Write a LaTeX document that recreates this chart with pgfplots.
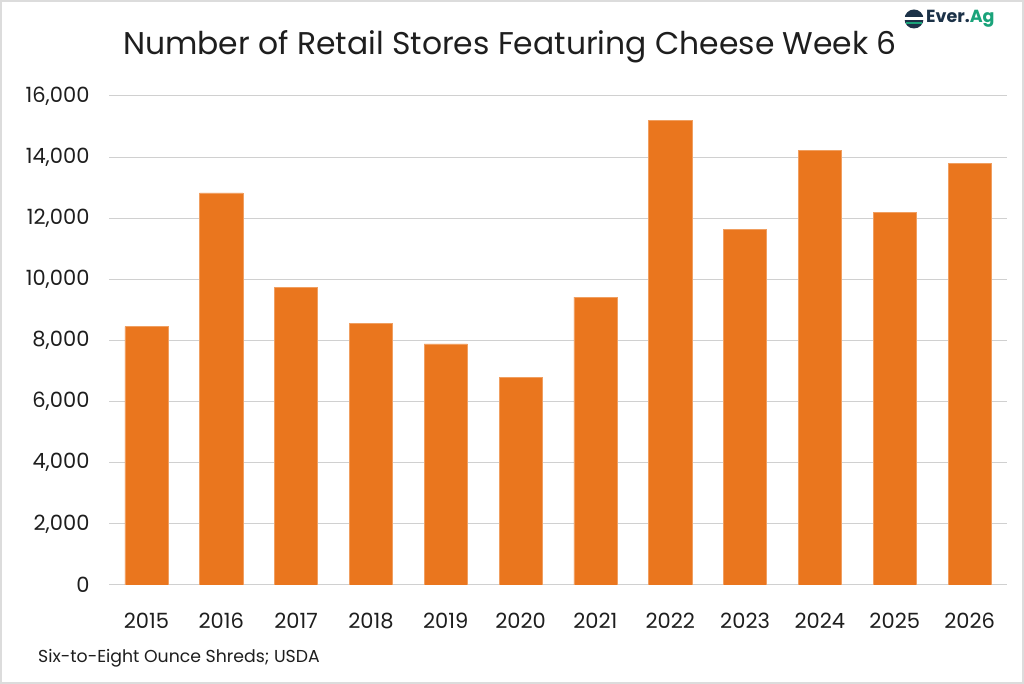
\documentclass[border=0pt]{standalone}
\usepackage{fontspec}
\setmainfont{Poppins}
\usepackage{pgfplots}
\pgfplotsset{compat=1.18}
\definecolor{barorange}{RGB}{234,118,30}
\definecolor{gridgray}{RGB}{208,208,208}
\definecolor{framegray}{RGB}{220,220,220}
\definecolor{txt}{RGB}{30,30,30}
\definecolor{evernavy}{RGB}{28,50,72}
\definecolor{evergreen}{RGB}{26,163,122}

\pgfplotstableread{
x year value
0 2015 8450
1 2016 12830
2 2017 9750
3 2018 8570
4 2019 7890
5 2020 6800
6 2021 9420
7 2022 15200
8 2023 11630
9 2024 14230
10 2025 12200
11 2026 13790
}\cheese

\begin{document}
\begin{tikzpicture}[x=1pt,y=1pt]
\path[use as bounding box] (0,0) rectangle (1024,684);
\fill[white] (0,0) rectangle (1024,684);
\draw[line width=2pt, framegray] (1,1) rectangle (1023,683);

\begin{axis}[
    at={(109pt,99pt)}, anchor=south west,
    scale only axis, width=898pt, height=489pt,
    xmin=-0.5, xmax=11.5, ymin=0, ymax=16000,
    ybar, bar width=0.575,
    xtick={0,...,11},
    xticklabels={2015,2016,2017,2018,2019,2020,2021,2022,2023,2024,2025,2026},
    ytick={0,2000,...,16000},
    scaled y ticks=false,
    /pgf/number format/.cd, 1000 sep={,}, assume math mode=true,
    /pgfplots/.cd,
    ymajorgrids, grid style={gridgray, line width=1pt},
    axis x line*=bottom, axis y line*=left,
    x axis line style={gridgray, line width=1pt, -},
    y axis line style={draw=none},
    major tick length=0pt,
    tick label style={font=\fontsize{21}{24}\selectfont, text=txt},
    yticklabel style={xshift=-16pt},
    xticklabel style={yshift=-25pt, text height=15pt, text depth=0pt},
]
\addplot[fill=barorange, draw=barorange!70!white, line width=0.5pt] table[x=x, y=value] {\cheese};
\end{axis}

\node[text=txt, font=\fontsize{31.4}{36}\selectfont] at (510,637) {Number of Retail Stores Featuring Cheese Week 6};
\node[text=txt, anchor=west, font=\fontsize{17.3}{20}\selectfont, inner sep=0pt] at (38,26) {Six-to-Eight Ounce Shreds; USDA};

% logo
\fill[evernavy] (914,665) circle (9.5);
\fill[white] (904,664) rectangle (924,666.5);
\fill[evergreen] (906,659.5) rectangle (922,661.5);
\node[anchor=west, inner sep=0pt, font=\bfseries\fontsize{17.5}{20}\selectfont] at (926,665)
  {\textcolor{evernavy}{Ever.}\textcolor{evergreen}{Ag}};
\end{tikzpicture}
\end{document}
